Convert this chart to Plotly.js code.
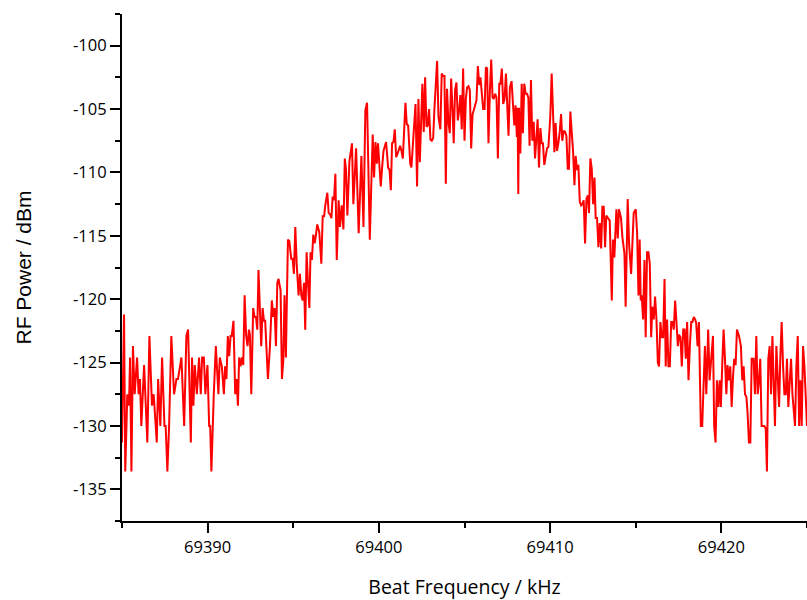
<!DOCTYPE html>
<html>
<head>
<meta charset="utf-8">
<script src="https://cdn.plot.ly/plotly-3.0.1.min.js"></script>
<style>html,body{margin:0;padding:0;background:#fff;}#chart{width:807px;height:600px;}</style>
</head>
<body>
<div id="chart"></div>
<script>
// Beat frequency (kHz) and RF power (dBm)
const freqKHz = [
69385.00,69385.12,69385.19,69385.31,69385.41,69385.47,69385.55,69385.64,69385.74,69385.88,69385.97,69386.05,69386.13,69386.29,69386.48,69386.60,69386.75,69386.85,69387.03,69387.11,69387.24,69387.34,69387.48,69387.55,69387.65,69387.75,69387.88,69388.04,69388.18,69388.27,69388.47,69388.63,69388.76,69388.86,69389.02,69389.09,69389.17,69389.25,69389.37,69389.50,69389.60,69389.68,69389.78,69389.87,69389.99,69390.09,69390.15,69390.22,69390.36,69390.48,
69390.63,69390.71,69390.83,69390.95,69391.02,69391.10,69391.18,69391.26,69391.34,69391.41,69391.51,69391.61,69391.69,69391.77,69391.84,69391.92,69392.00,69392.08,69392.16,69392.25,69392.33,69392.41,69392.47,69392.55,69392.66,69392.74,69392.82,69392.90,69392.97,69393.05,69393.13,69393.21,69393.29,69393.36,69393.44,69393.52,69393.64,69393.75,69393.83,69393.91,69393.99,69394.07,69394.14,69394.26,69394.34,69394.42,69394.49,69394.57,69394.69,69394.77,69394.88,69394.96,69395.04,69395.12,69395.20,69395.31,69395.39,69395.47,69395.55,69395.63,69395.70,69395.78,69395.86,69395.94,69396.01,69396.09,69396.17,69396.25,69396.33,69396.40,69396.52,
69396.64,69396.72,69396.80,69396.87,69396.99,69397.07,69397.15,69397.23,69397.30,69397.38,69397.46,69397.54,69397.65,69397.73,69397.83,69397.93,69398.01,69398.08,69398.16,69398.28,69398.43,69398.51,69398.67,69398.82,69398.98,69399.10,69399.21,69399.31,69399.47,69399.64,69399.72,69399.80,69399.88,69399.95,69400.11,69400.19,69400.27,69400.42,69400.54,69400.62,69400.70,69400.77,69400.85,69400.93,69401.01,69401.12,69401.24,69401.32,69401.40,69401.55,69401.63,69401.71,69401.83,69401.90,69402.02,69402.14,
69402.23,69402.31,69402.39,69402.46,69402.54,69402.62,69402.70,69402.78,69402.85,69402.93,69403.01,69403.09,69403.17,69403.24,69403.32,69403.40,69403.48,69403.59,69403.67,69403.75,69403.83,69403.91,69403.98,69404.06,69404.14,69404.22,69404.30,69404.37,69404.45,69404.53,69404.61,69404.69,69404.76,69404.84,69404.92,69405.00,69405.08,69405.15,69405.23,69405.31,69405.39,69405.47,69405.54,69405.62,69405.70,69405.78,69405.86,69405.93,69406.01,69406.09,69406.17,69406.25,69406.32,69406.40,69406.48,69406.56,69406.64,69406.71,69406.79,69406.87,69406.95,69407.03,69407.10,69407.18,69407.26,69407.34,69407.42,69407.49,69407.57,69407.65,
69407.75,69407.83,69407.91,69407.98,69408.06,69408.10,69408.14,69408.18,69408.22,69408.26,69408.34,69408.41,69408.49,69408.57,69408.65,69408.73,69408.80,69408.88,69408.96,69409.04,69409.12,69409.19,69409.27,69409.35,69409.43,69409.51,69409.58,69409.66,69409.74,69409.82,69409.90,69409.97,69410.01,69410.09,69410.17,69410.25,69410.32,69410.40,69410.48,69410.56,69410.64,69410.71,69410.79,69410.87,69410.95,69411.03,69411.10,69411.18,69411.26,69411.34,69411.42,69411.49,69411.57,69411.65,69411.73,69411.81,69411.88,69411.96,69412.04,69412.12,69412.20,69412.27,69412.35,69412.43,69412.51,69412.59,69412.66,69412.74,69412.82,69412.90,69412.98,69413.05,69413.13,69413.21,
69413.28,69413.40,69413.48,69413.60,69413.67,69413.75,69413.87,69413.95,69414.02,69414.14,69414.22,69414.34,69414.41,69414.53,69414.61,69414.73,69414.88,69415.00,69415.08,69415.16,69415.23,69415.29,69415.35,69415.43,69415.51,69415.58,69415.66,69415.74,69415.82,69415.90,69415.97,69416.05,69416.13,69416.21,69416.29,69416.36,69416.44,69416.52,69416.60,69416.68,69416.75,69416.83,69416.91,69416.99,69417.07,69417.14,69417.22,69417.30,69417.38,69417.46,69417.53,69417.61,69417.69,69417.77,69417.85,69417.92,69418.00,69418.08,69418.16,69418.24,69418.31,69418.39,69418.47,
69418.53,69418.61,69418.69,69418.80,69418.88,69419.04,69419.12,69419.23,69419.31,69419.43,69419.51,69419.58,69419.66,69419.74,69419.82,69419.90,69419.97,69420.05,69420.13,69420.21,69420.29,69420.36,69420.44,69420.52,69420.60,69420.68,69420.75,69420.83,69420.91,69421.03,69421.14,69421.22,69421.30,69421.38,69421.46,69421.53,69421.61,69421.69,69421.77,69421.88,69421.96,69422.04,69422.12,69422.20,69422.27,69422.35,69422.51,69422.59,69422.66,69422.74,69422.82,69422.90,69422.98,69423.05,69423.13,69423.21,69423.29,69423.37,69423.44,69423.52,69423.60,69423.68,69423.76,69423.83,69423.91,69423.99,69424.07,69424.15,69424.22,69424.30,69424.38,69424.46,69424.54,69424.61,69424.69,69424.77,69424.85,69424.93,69425.00
];
const powerDBm = [
-131.3,-121.2,-133.6,-127.5,-128.4,-124.6,-133.6,-123.7,-127.5,-124.6,-127.5,-126.3,-130.0,-125.2,-131.3,-122.9,-128.4,-127.5,-131.3,-126.3,-130.0,-124.6,-130.0,-130.0,-133.6,-130.0,-122.9,-127.5,-126.3,-126.3,-124.6,-130.0,-122.9,-122.4,-131.3,-124.6,-128.4,-125.2,-127.5,-124.6,-127.5,-124.6,-124.6,-127.5,-125.2,-130.0,-130.0,-133.6,-127.5,-123.7,
-127.5,-124.6,-125.3,-127.5,-125.3,-126.3,-122.9,-124.5,-122.9,-122.9,-121.7,-127.5,-126.3,-128.4,-124.6,-125.3,-124.6,-125.2,-119.7,-122.9,-123.7,-122.4,-122.8,-127.5,-120.7,-121.4,-121.4,-122.4,-117.7,-121.4,-123.7,-120.7,-121.7,-121.7,-124.8,-126.3,-123.7,-120.1,-121.4,-120.7,-123.7,-118.7,-118.4,-119.3,-126.3,-124.8,-119.7,-124.6,-115.3,-115.4,-116.8,-116.8,-118.0,-114.3,-117.2,-119.7,-118.0,-119.7,-120.1,-118.7,-122.4,-116.3,-118.7,-120.7,-116.3,-116.9,-114.9,-115.6,-114.9,-114.1,-114.7,
-117.2,-113.4,-113.5,-112.6,-111.6,-113.2,-113.3,-113.6,-111.9,-112.2,-110.1,-116.9,-112.2,-114.3,-112.6,-114.5,-108.9,-109.8,-113.4,-109.1,-107.7,-112.5,-108.1,-114.8,-108.7,-114.3,-105.1,-104.5,-115.3,-107.0,-110.4,-107.6,-109.3,-107.7,-111.1,-109.6,-108.3,-107.6,-109.6,-109.8,-111.4,-107.7,-107.6,-106.6,-108.8,-108.4,-107.9,-108.3,-108.9,-104.5,-106.2,-106.3,-109.3,-109.6,-106.7,-104.6,
-111.1,-104.2,-109.2,-106.9,-103.0,-106.8,-102.5,-106.4,-106.3,-105.0,-107.4,-107.5,-107.3,-105.1,-102.9,-101.2,-105.6,-106.6,-102.2,-102.4,-102.4,-110.9,-103.4,-106.0,-106.9,-102.6,-105.0,-107.7,-103.5,-102.9,-105.9,-105.1,-103.9,-106.6,-101.8,-107.5,-104.2,-103.3,-103.2,-103.5,-108.1,-105.4,-105.1,-104.7,-104.3,-101.6,-103.1,-102.5,-104.1,-105.0,-105.0,-101.7,-101.8,-107.7,-103.7,-101.1,-104.1,-104.2,-103.8,-104.1,-108.9,-103.0,-103.0,-101.8,-104.6,-104.2,-102.2,-105.2,-107.1,-103.3,
-102.8,-104.6,-106.3,-104.7,-107.2,-104.9,-111.7,-104.9,-108.5,-108.5,-103.0,-106.9,-103.0,-103.8,-103.8,-104.1,-107.9,-102.7,-107.5,-106.0,-108.9,-107.5,-105.8,-109.6,-106.5,-107.7,-107.7,-109.4,-108.8,-108.1,-108.0,-106.9,-105.6,-102.2,-105.1,-108.4,-106.1,-108.3,-107.7,-106.8,-105.4,-107.5,-106.7,-106.8,-107.1,-109.7,-109.7,-105.2,-106.8,-108.3,-111.0,-108.7,-109.8,-109.4,-112.3,-112.6,-112.5,-112.2,-115.6,-112.1,-111.8,-113.2,-108.9,-109.7,-112.5,-110.4,-113.6,-113.6,-115.9,-114.0,-116.0,-112.7,-112.7,-115.9,
-113.4,-113.6,-113.8,-120.1,-115.3,-116.7,-112.9,-115.2,-112.9,-113.6,-115.1,-116.4,-120.6,-112.1,-115.6,-118.0,-113.2,-112.9,-114.8,-119.7,-115.3,-120.1,-119.7,-121.6,-116.9,-123.0,-116.3,-116.3,-117.2,-123.0,-120.6,-121.6,-119.8,-121.6,-125.0,-125.3,-121.8,-123.0,-123.0,-118.4,-125.3,-121.6,-125.3,-125.3,-121.8,-121.8,-122.4,-120.1,-122.2,-123.7,-122.8,-123.0,-125.3,-122.4,-122.4,-124.7,-121.8,-126.4,-123.7,-121.8,-121.8,-121.4,-121.6,
-121.9,-123.7,-121.8,-130.0,-130.0,-123.7,-127.5,-122.4,-126.4,-124.3,-122.9,-130.0,-131.3,-126.4,-128.5,-126.4,-128.5,-125.2,-122.4,-124.7,-127.5,-125.2,-126.4,-125.3,-128.5,-126.1,-124.7,-125.2,-122.4,-122.9,-123.7,-126.4,-125.3,-127.5,-127.7,-129.0,-131.3,-131.3,-124.7,-124.7,-127.5,-122.9,-127.5,-126.4,-124.7,-130.0,-130.0,-130.2,-133.6,-124.7,-123.7,-127.5,-122.9,-126.4,-130.0,-123.7,-126.4,-128.5,-124.7,-121.8,-125.2,-127.5,-127.5,-124.7,-128.5,-126.4,-124.7,-127.5,-128.5,-130.0,-125.3,-122.9,-130.0,-126.4,-130.0,-123.7,-125.3,-127.5,-130.0
];
const xTickVals = [69390, 69400, 69410, 69420];
const xTickText = ['69390', '69400', '69410', '69420'];
const yTickVals = [-135, -130, -125, -120, -115, -110, -105, -100];
const yTickText = ['-135', '-130', '-125', '-120', '-115', '-110', '-105', '-100'];

const tickFont = {family: '"Open Sans", sans-serif', size: 16.5, color: '#000'};
const xTitleFont = {family: '"Open Sans", sans-serif', size: 19.5, color: '#000'};
const yTitleFont = {family: '"Liberation Sans", Arial, sans-serif', size: 21, color: '#000'};

Plotly.newPlot('chart', [{
  x: freqKHz, y: powerDBm, type: 'scatter', mode: 'lines',
  line: {color: '#ff0000', width: 2}, hoverinfo: 'skip'
}], {
  width: 807, height: 600,
  margin: {l: 122, r: 0, t: 14, b: 79},
  paper_bgcolor: '#fff', plot_bgcolor: '#fff',
  showlegend: false,
  font: tickFont,
  xaxis: {
    range: [69385, 69425], showgrid: false, zeroline: false,
    showline: true, linecolor: '#000', linewidth: 2,
    ticks: 'outside', ticklen: 10, tickwidth: 2, tickcolor: '#000',
    tickmode: 'array', tickvals: xTickVals, ticktext: xTickText,
    minor: {tickmode: 'linear', tick0: 69385, dtick: 10, ticks: 'outside', ticklen: 5, tickwidth: 2, tickcolor: '#000', showgrid: false},
    tickfont: tickFont,
    title: {text: 'Beat Frequency / kHz', font: xTitleFont, standoff: 24}
  },
  yaxis: {
    range: [-137.5, -97.5], showgrid: false, zeroline: false,
    showline: true, linecolor: '#000', linewidth: 2,
    ticks: 'outside', ticklen: 10, tickwidth: 2, tickcolor: '#000',
    tickmode: 'array', tickvals: yTickVals, ticktext: yTickText,
    minor: {tickmode: 'linear', tick0: -97.5, dtick: 5, ticks: 'outside', ticklen: 5, tickwidth: 2, tickcolor: '#000', showgrid: false},
    tickfont: tickFont,
    title: {text: 'RF Power / dBm', font: yTitleFont, standoff: 36}
  }
}, {displayModeBar: false, staticPlot: true});
</script>
</body>
</html>
